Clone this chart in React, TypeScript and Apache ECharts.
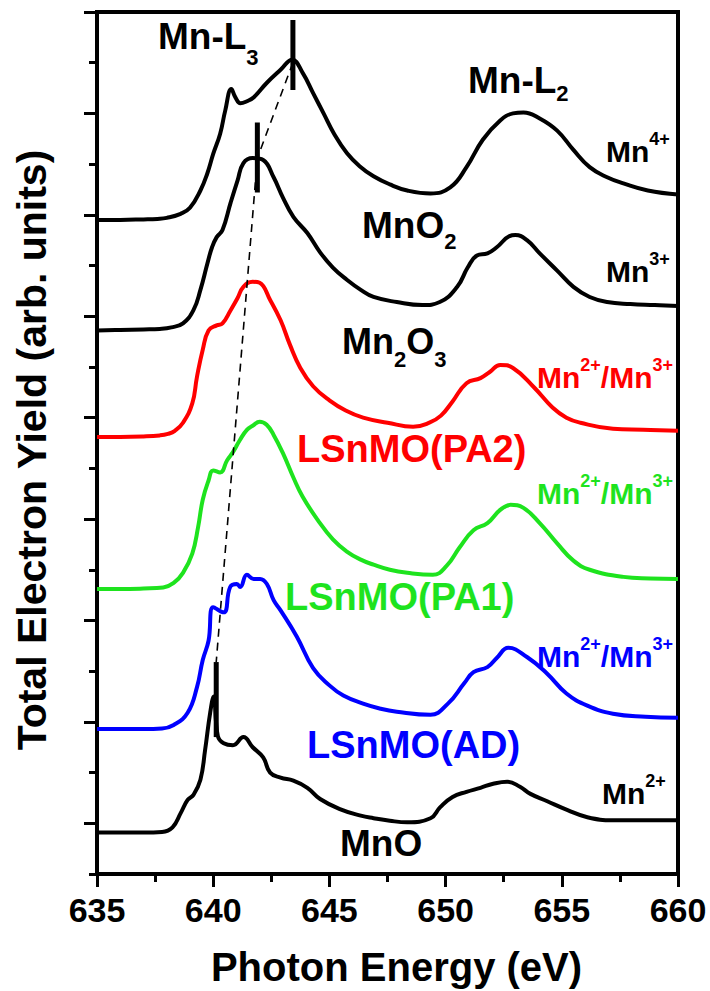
import React, { useEffect, useRef } from 'react';
import * as echarts from 'echarts';

const FONT = '"Liberation Sans", Arial, Helvetica, sans-serif';
const BLACK = '#000000';
const RED = '#ff0000';
const GREEN = '#1ee31e';
const BLUE = '#0000ff';

// Stacked Mn L-edge spectra: [photon energy (eV), offset yield (arb. units)]
const mno2Spectrum = [
  [635.0, 6.45], [636.0, 6.45], [637.0, 6.455], [637.6, 6.46], [638.0, 6.47], [638.6, 6.51],
  [639.0, 6.57], [639.45, 6.74], [639.75, 6.91], [640.0, 7.10], [640.3, 7.30], [640.52, 7.53],
  [640.78, 7.74], [640.95, 7.66], [641.17, 7.60], [641.45, 7.62], [641.75, 7.66], [642.3, 7.80],
  [642.9, 7.93], [643.4, 8.03], [643.85, 7.90], [644.3, 7.70], [644.75, 7.50], [645.2, 7.30],
  [645.75, 7.11], [646.3, 6.98], [646.9, 6.88], [647.6, 6.80], [648.35, 6.74], [649.35, 6.71],
  [650.2, 6.77], [650.9, 6.97], [651.6, 7.24], [652.35, 7.43], [652.9, 7.50], [653.35, 7.51],
  [654.05, 7.45], [654.8, 7.33], [655.5, 7.14], [656.2, 6.97], [656.95, 6.87], [657.65, 6.81],
  [658.7, 6.74], [660.0, 6.70],
];

const mn2o3Spectrum = [
  [635.0, 5.36], [636.0, 5.365], [637.0, 5.37], [637.7, 5.375], [638.2, 5.39], [638.7, 5.43],
  [639.15, 5.56], [639.45, 5.76], [639.75, 6.02], [639.95, 6.18], [640.15, 6.28], [640.4, 6.35],
  [640.75, 6.62], [641.05, 6.84], [641.3, 7.01], [641.7, 7.06], [642.15, 7.04], [642.6, 6.87],
  [643.0, 6.67], [643.45, 6.48], [644.05, 6.32], [644.6, 6.13], [645.15, 5.98], [645.75, 5.86],
  [646.35, 5.76], [646.9, 5.69], [647.9, 5.64], [649.0, 5.61], [649.75, 5.64], [650.5, 5.79],
  [650.95, 5.98], [651.35, 6.10], [651.8, 6.12], [652.2, 6.18], [652.75, 6.29], [653.0, 6.30],
  [653.5, 6.25], [654.05, 6.12], [654.8, 5.95], [655.5, 5.79], [656.2, 5.69], [656.95, 5.64],
  [657.95, 5.62], [659.0, 5.61], [660.0, 5.60],
];

const pa2Spectrum = [
  [635.0, 4.31], [636.0, 4.31], [637.0, 4.315], [637.7, 4.325], [638.05, 4.34], [638.35, 4.37],
  [638.7, 4.45], [639.1, 4.64], [639.3, 4.90], [639.55, 5.17], [639.8, 5.36], [640.15, 5.41],
  [640.4, 5.43], [640.75, 5.56], [641.05, 5.68], [641.3, 5.79], [641.7, 5.84], [642.0, 5.83],
  [642.45, 5.66], [642.9, 5.46], [643.3, 5.22], [643.75, 4.99], [644.3, 4.81], [645.0, 4.67],
  [645.7, 4.57], [646.45, 4.50], [647.5, 4.45], [648.6, 4.41], [649.3, 4.45], [649.8, 4.52],
  [650.3, 4.66], [650.9, 4.84], [651.5, 4.89], [651.9, 4.95], [652.35, 5.02], [652.9, 4.99],
  [653.8, 4.80], [654.6, 4.60], [655.2, 4.50], [655.8, 4.45], [657.2, 4.39], [658.5, 4.38],
  [660.0, 4.37],
];

const pa1Spectrum = [
  [635.0, 2.81], [636.0, 2.81], [637.0, 2.815], [637.85, 2.825], [638.3, 2.87], [638.7, 2.97],
  [639.1, 3.16], [639.35, 3.42], [639.55, 3.69], [639.8, 3.88], [640.0, 3.98], [640.3, 3.96],
  [640.6, 4.08], [640.85, 4.16], [641.15, 4.28], [641.45, 4.38], [641.7, 4.42], [642.0, 4.46],
  [642.3, 4.43], [642.6, 4.33], [643.0, 4.15], [643.45, 3.91], [643.85, 3.72], [644.5, 3.49],
  [645.15, 3.30], [645.75, 3.18], [646.35, 3.10], [646.9, 3.05], [647.6, 3.00], [648.35, 2.97],
  [649.45, 2.95], [650.05, 3.04], [650.6, 3.22], [651.2, 3.39], [651.8, 3.46], [652.35, 3.59],
  [652.8, 3.64], [653.35, 3.61], [654.05, 3.46], [654.8, 3.26], [655.5, 3.09], [656.2, 3.00],
  [657.65, 2.93], [658.8, 2.915], [660.0, 2.91],
];

const adSpectrum = [
  [635.0, 1.43], [636.0, 1.43], [637.0, 1.43], [637.8, 1.435], [638.3, 1.47], [638.9, 1.59],
  [639.3, 1.84], [639.55, 2.11], [639.8, 2.30], [640.0, 2.63], [640.45, 2.58], [640.73, 2.83],
  [641.02, 2.86], [641.16, 2.83], [641.45, 2.95], [641.74, 2.91], [642.02, 2.91], [642.31, 2.86],
  [642.6, 2.70], [642.9, 2.60], [643.6, 2.34], [644.3, 2.03], [645.0, 1.86], [645.6, 1.76],
  [646.45, 1.68], [647.2, 1.63], [647.9, 1.60], [649.35, 1.57], [650.1, 1.68], [650.8, 1.88],
  [651.2, 1.99], [651.8, 2.04], [652.2, 2.13], [652.7, 2.23], [653.5, 2.14], [654.35, 1.98],
  [655.2, 1.78], [656.1, 1.66], [657.2, 1.58], [658.6, 1.55], [660.0, 1.54],
];

const mnoSpectrum = [
  [635.0, 0.41], [636.0, 0.41], [637.0, 0.41], [637.8, 0.415], [638.25, 0.46], [638.6, 0.60],
  [638.9, 0.73], [639.15, 0.78], [639.45, 0.93], [639.65, 1.22], [639.87, 1.59], [640.02, 1.75],
  [640.2, 1.36], [640.45, 1.29], [640.85, 1.27], [641.3, 1.35], [641.7, 1.25], [642.15, 1.15],
  [642.45, 1.00], [642.9, 0.95], [643.45, 0.92], [644.05, 0.85], [644.6, 0.74], [645.45, 0.64],
  [646.35, 0.575], [646.9, 0.55], [647.6, 0.525], [648.35, 0.51], [649.35, 0.55], [649.77, 0.66],
  [650.3, 0.76], [650.9, 0.81], [651.5, 0.85], [652.05, 0.89], [652.65, 0.91], [653.2, 0.86],
  [653.65, 0.79], [654.35, 0.72], [655.25, 0.63], [656.1, 0.56], [657.2, 0.53], [658.6, 0.53],
  [660.0, 0.53],
];

// Mn-L3 peak positions marked by short vertical bars
const peakMarkerEnergies = [643.43, 641.9, 640.13];
const peakMarkerLows = [7.73, 6.72, 1.35];
const peakMarkerHighs = [8.42, 7.41, 2.09];

// dashed guide following the L3 peak shift
const peakShiftGuide = [[643.43, 8.0], [641.9, 7.06], [640.13, 2.09]];

// axis ranges and tick positions
const energyRange = [635, 660];
const energyStep = 5;
const yieldRange = [0, 8.5];
const yieldMajorTicks = [0.5, 1.5, 2.5, 3.5, 4.5, 5.5, 6.5, 7.5, 8.5];
const yieldMinorTicks = [0, 1, 2, 3, 4, 5, 6, 7, 8];

type Piece = [string, number, number]; // text, font size, vertical shift of glyph centre

function richLabel(left: number, cy: number, color: string, pieces: Piece[]) {
  const tops = pieces.map(([, size, shift]) => cy + shift - size / 2);
  const y0 = Math.min(...tops);
  const rich: Record<string, any> = {};
  let text = '';
  pieces.forEach(([t, size], i) => {
    const key = 't' + i;
    rich[key] = {
      fontSize: size,
      fontWeight: 'bold',
      fontFamily: FONT,
      fill: color,
      verticalAlign: 'top',
      padding: [tops[i] - y0, 0, 0, 0],
    };
    text += `{${key}|${t}}`;
  });
  return {
    type: 'text',
    x: left,
    y: y0,
    z: 10,
    style: {
      text,
      rich,
      fill: color,
      fontFamily: FONT,
      fontWeight: 'bold',
      align: 'left',
      verticalAlign: 'top',
    },
  };
}

const mixedValence = (sup1: string, sup2: string): Piece[] => [
  ['Mn', 30, 0], [sup1, 18, -12], ['/Mn', 30, 0], [sup2, 18, -12],
];

const annotations = [
  richLabel(158, 36.5, BLACK, [['Mn-L', 37, 0], ['3', 22, 21]]),
  richLabel(468, 80.5, BLACK, [['Mn-L', 37, 0], ['2', 22, 13]]),
  richLabel(606, 151.5, BLACK, [['Mn', 30, 0], ['4+', 18, -13]]),
  richLabel(362, 225, BLACK, [['MnO', 37, 0], ['2', 22, 16]]),
  richLabel(606, 271, BLACK, [['Mn', 30, 0], ['3+', 18, -12]]),
  richLabel(342, 341.5, BLACK, [['Mn', 36, 0], ['2', 22, 18], ['O', 36, 0], ['3', 22, 18]]),
  richLabel(537, 377, RED, mixedValence('2+', '3+')),
  richLabel(297, 448.5, RED, [['LSnMO(PA2)', 38, 0]]),
  richLabel(537, 493, GREEN, mixedValence('2+', '3+')),
  richLabel(285, 596.5, GREEN, [['LSnMO(PA1)', 38, 0]]),
  richLabel(537, 656, BLUE, mixedValence('2+', '3+')),
  richLabel(307, 745, BLUE, [['LSnMO(AD)', 38, 0]]),
  richLabel(602, 793, BLACK, [['Mn', 30, 0], ['2+', 18, -12]]),
  richLabel(340, 843.5, BLACK, [['MnO', 37, 0]]),
];

const spectra = [
  { name: 'MnO2', data: mno2Spectrum, color: BLACK },
  { name: 'Mn2O3', data: mn2o3Spectrum, color: BLACK },
  { name: 'LSnMO(PA2)', data: pa2Spectrum, color: RED },
  { name: 'LSnMO(PA1)', data: pa1Spectrum, color: GREEN },
  { name: 'LSnMO(AD)', data: adSpectrum, color: BLUE },
  { name: 'MnO', data: mnoSpectrum, color: BLACK },
];

function buildOption() {
  const tickLine = { color: BLACK, width: 3 };
  const spectrumSeries = spectra.map((s) => ({
    name: s.name,
    type: 'line',
    data: s.data,
    symbol: 'none',
    smooth: 0.45,
    lineStyle: { color: s.color, width: 4, join: 'round' },
    z: 3,
  }));
  const markerSeries = peakMarkerEnergies.map((e, i) => ({
    type: 'line',
    data: [[e, peakMarkerLows[i]], [e, peakMarkerHighs[i]]],
    symbol: 'none',
    lineStyle: { color: BLACK, width: 5, cap: 'butt' },
    z: 5,
  }));
  const guideSeries = {
    type: 'line',
    data: peakShiftGuide,
    symbol: 'none',
    lineStyle: { color: BLACK, width: 1.6, type: [8, 6] },
    z: 4,
  };

  const hiddenYAxis = {
    type: 'value',
    min: yieldRange[0],
    max: yieldRange[1],
    position: 'left',
    axisLabel: { show: false },
    splitLine: { show: false },
  };

  return {
    animation: false,
    backgroundColor: '#ffffff',
    grid: {
      left: 97,
      right: 32,
      top: 12,
      bottom: 117,
      show: true,
      borderColor: BLACK,
      borderWidth: 4,
      backgroundColor: 'transparent',
    },
    xAxis: {
      type: 'value',
      min: energyRange[0],
      max: energyRange[1],
      interval: energyStep,
      axisLine: { onZero: false, lineStyle: { color: BLACK, width: 4 } },
      axisTick: { length: 13, lineStyle: tickLine },
      minorTick: { show: true, splitNumber: 2, length: 8, lineStyle: tickLine },
      axisLabel: {
        fontSize: 34,
        fontWeight: 'bold',
        fontFamily: FONT,
        color: BLACK,
        margin: 19,
      },
      splitLine: { show: false },
      minorSplitLine: { show: false },
    },
    yAxis: [
      {
        ...hiddenYAxis,
        axisLine: { show: true, lineStyle: { color: BLACK, width: 4 } },
        axisTick: { show: true, length: 13, lineStyle: tickLine, customValues: yieldMajorTicks },
      },
      {
        ...hiddenYAxis,
        axisLine: { show: false },
        axisTick: { show: true, length: 8, lineStyle: tickLine, customValues: yieldMinorTicks },
      },
    ],
    graphic: [
      {
        type: 'text',
        x: 32,
        y: 450,
        rotation: Math.PI / 2,
        style: {
          text: 'Total Electron Yield (arb. units)',
          fontSize: 41,
          fontWeight: 'bold',
          fontFamily: FONT,
          fill: BLACK,
          align: 'center',
          verticalAlign: 'middle',
        },
      },
      {
        type: 'text',
        x: 396.5,
        y: 967,
        style: {
          text: 'Photon Energy (eV)',
          fontSize: 40,
          fontWeight: 'bold',
          fontFamily: FONT,
          fill: BLACK,
          align: 'center',
          verticalAlign: 'middle',
        },
      },
      ...annotations,
    ],
    series: [...spectrumSeries, guideSeries, ...markerSeries],
  };
}

export default function App() {
  const ref = useRef<HTMLDivElement>(null);
  useEffect(() => {
    if (!ref.current) return;
    const chart = echarts.init(ref.current, null, { renderer: 'svg' });
    chart.setOption(buildOption() as any);
    return () => chart.dispose();
  }, []);
  return (
    <div
      ref={ref}
      style={{ position: 'fixed', left: 0, top: 0, width: 710, height: 991, background: '#ffffff' }}
    />
  );
}
